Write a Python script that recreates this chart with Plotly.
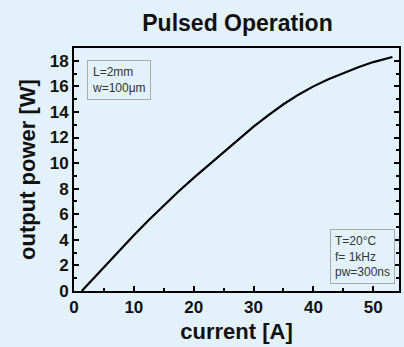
import plotly.graph_objects as go

current_A = [1.3, 3, 5, 7.5, 10, 12.5, 15, 17.5, 20, 22.5, 25, 27.5, 30, 32.5, 35, 37.5, 40, 42.5, 45, 47.5, 50, 52, 53.2]
power_W = [0.0, 0.85, 1.9, 3.15, 4.35, 5.55, 6.7, 7.8, 8.85, 9.85, 10.85, 11.9, 12.85, 13.75, 14.6, 15.35, 16.0, 16.55, 17.05, 17.5, 17.9, 18.15, 18.3]

x_ticks = [0, 10, 20, 30, 40, 50]
y_ticks = [0, 2, 4, 6, 8, 10, 12, 14, 16, 18]

bg = "#e3f1fb"
font = "Liberation Sans, Arial, sans-serif"

fig = go.Figure()
fig.add_trace(go.Scatter(x=current_A, y=power_W, mode="lines",
                         line=dict(color="black", width=2.2), showlegend=False))

axis_common = dict(showgrid=False, zeroline=False, showline=True, linecolor="black",
                   linewidth=2, ticks="inside", ticklen=5, tickwidth=2, tickcolor="black",
                   tickfont=dict(family=font, size=17, color="#111", weight="bold"))

fig.update_layout(
    width=404, height=347,
    margin=dict(l=74, r=3, t=48, b=56),
    paper_bgcolor=bg, plot_bgcolor=bg,
    title=dict(text="<b>Pulsed Operation</b>", x=(74 + 401) / 2 / 404, xanchor="center",
               y=1 - 23 / 347, yanchor="middle", yref="container",
               font=dict(family=font, size=23, color="#111")),
    xaxis=dict(range=[0, 54.3], tickvals=x_ticks, mirror=True,
               minor=dict(dtick=5, ticks="inside", ticklen=3, tickwidth=2, tickcolor="black"),
               title=dict(text="<b>current [A]</b>", standoff=7,
                          font=dict(family=font, size=22, color="#111")),
               **axis_common),
    yaxis=dict(range=[0, 19.0], tickvals=y_ticks, mirror="ticks",
               minor=dict(dtick=1, ticks="inside", ticklen=3, tickwidth=2, tickcolor="black"),
               title=dict(text="<b>output power [W]</b>", standoff=8,
                          font=dict(family=font, size=22, color="#111")),
               **axis_common),
)

fig.add_annotation(text="L=2mm<br>w=100μm", xref="paper", yref="paper",
                   x=(87 - 74) / 327, y=(291 - 60) / 243, xanchor="left", yanchor="top",
                   showarrow=False, align="left", bordercolor="#aaaaaa", borderwidth=1,
                   borderpad=4, font=dict(family=font, size=12, color="#333"))
fig.add_annotation(text="T=20°C<br>f= 1kHz<br>pw=300ns", xref="paper", yref="paper",
                   x=(397 - 74) / 327, y=(291 - 284) / 243, xanchor="right", yanchor="bottom",
                   showarrow=False, align="left", bordercolor="#aaaaaa", borderwidth=1,
                   borderpad=4, font=dict(family=font, size=12, color="#333"))

fig.write_html("out.html", config={"displayModeBar": False},
               post_script="document.body.style.margin='0';document.body.style.overflow='hidden';")
